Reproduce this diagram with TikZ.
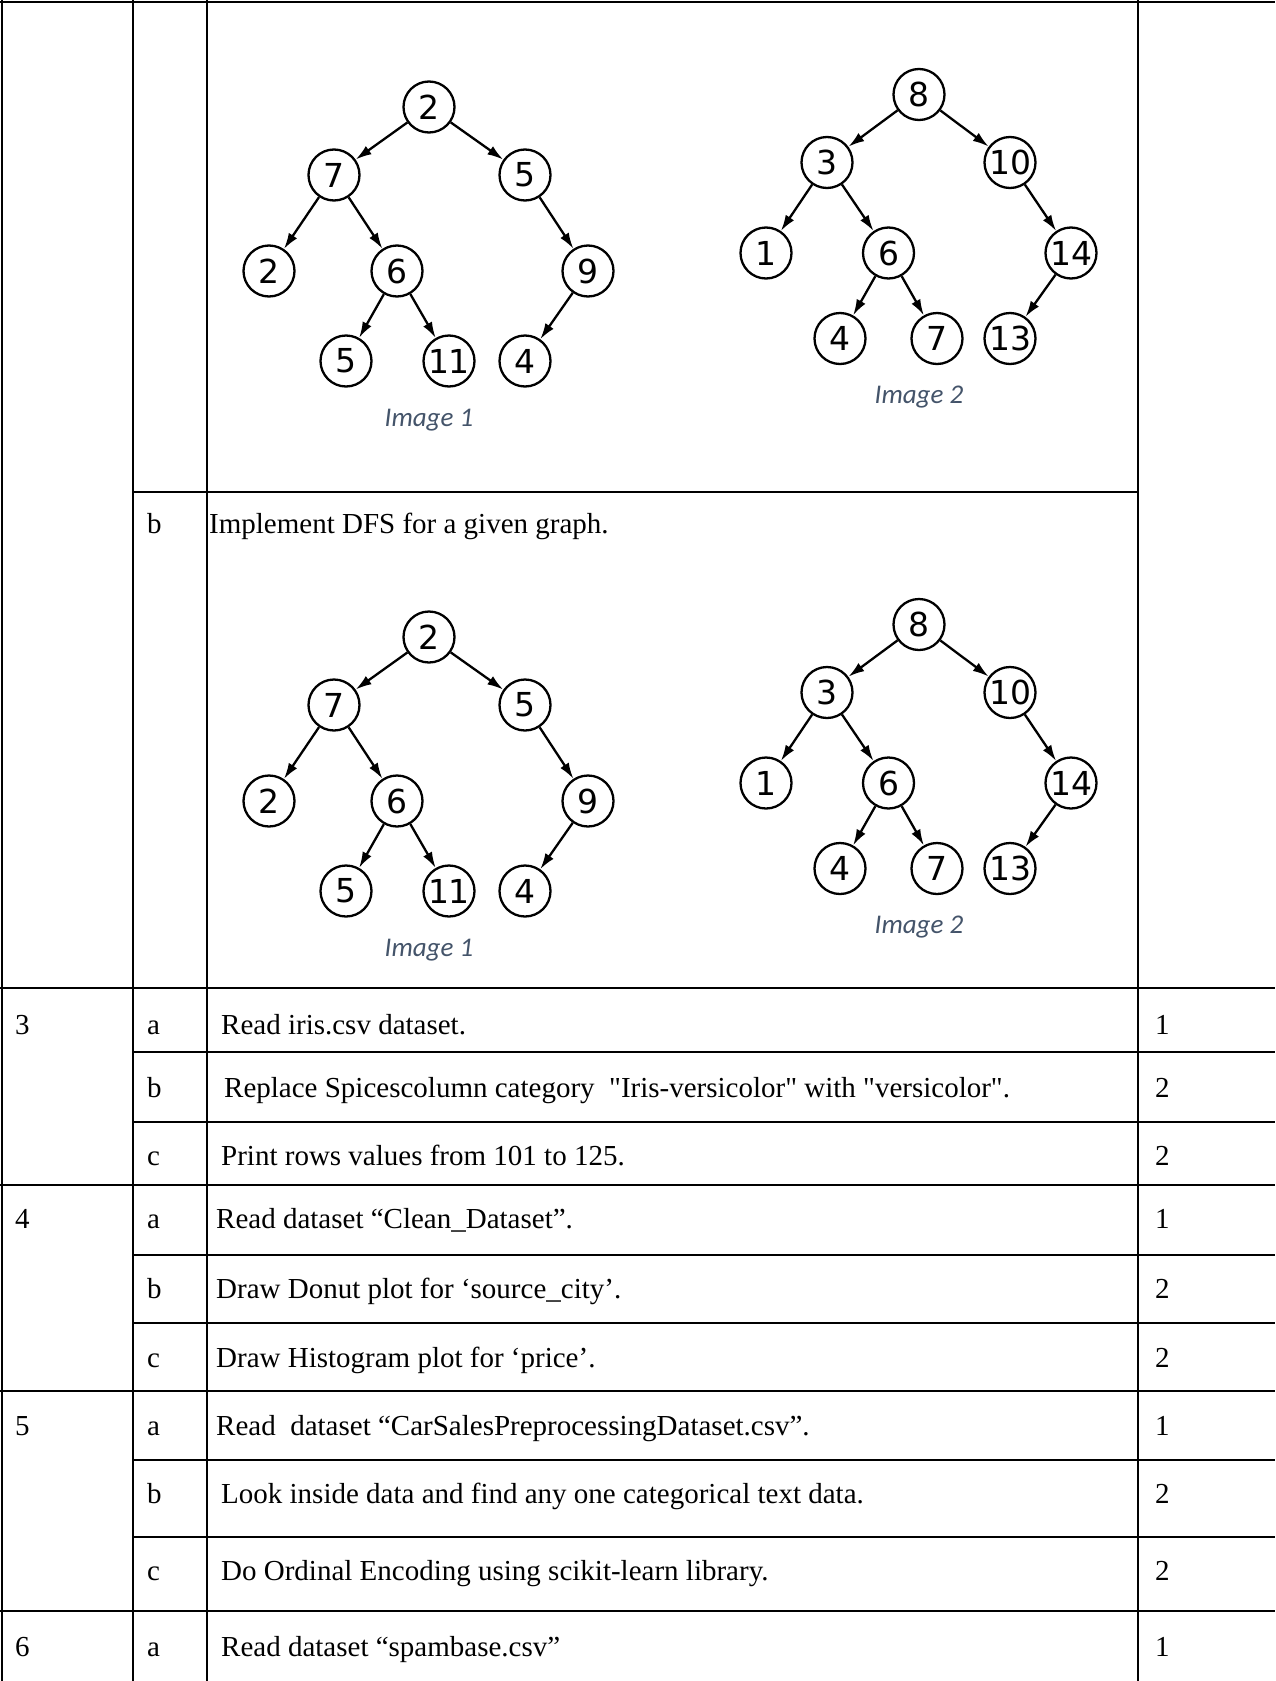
\documentclass[tikz,border=0pt]{standalone}
\usepackage{fontspec}
\setmainfont{Liberation Serif}[Ligatures=TeXOff]
\newfontfamily\treefont{DejaVu Sans}
\newfontfamily\capfont{Carlito}
\usetikzlibrary{arrows.meta}
\definecolor{capcol}{RGB}{68,84,106}
\tikzset{
  tnode/.style={circle, draw, line width=2.3pt, minimum size=51pt, inner sep=0pt, font=\treefont\fontsize{33}{33}\selectfont},
  tedge/.style={-{Latex[length=16pt,width=10pt]}, line width=2.3pt},
  capt/.style={inner sep=0pt, font=\capfont\itshape\fontsize{27}{27}\selectfont, text=capcol},
  tabrule/.style={line width=2.8pt},
  cell/.style={anchor=base west, inner sep=0pt, font=\fontsize{29}{34}\selectfont}
}
\newcommand\treeone[2]{%
  \begin{scope}[yshift=#2]
    \node[tnode] (#1r)  at (429,107) {2};
    \node[tnode] (#1a)  at (334,175) {7};
    \node[tnode] (#1b)  at (525,175) {5};
    \node[tnode] (#1c)  at (269,271) {2};
    \node[tnode] (#1d)  at (397,271) {6};
    \node[tnode] (#1e)  at (588,271) {9};
    \node[tnode] (#1f)  at (346,361) {5};
    \node[tnode] (#1g)  at (449,361) {11};
    \node[tnode] (#1h)  at (525,361) {4};
    \node[capt]  (#1cap) at (429,420) {Image 1};
    \draw[tedge] (#1r) -- (#1a);
    \draw[tedge] (#1r) -- (#1b);
    \draw[tedge] (#1a) -- (#1c);
    \draw[tedge] (#1a) -- (#1d);
    \draw[tedge] (#1b) -- (#1e);
    \draw[tedge] (#1d) -- (#1f);
    \draw[tedge] (#1d) -- (#1g);
    \draw[tedge] (#1e) -- (#1h);
  \end{scope}}
\newcommand\treetwo[2]{%
  \begin{scope}[yshift=#2]
    \node[tnode] (#1r)  at (919,94.5) {8};
    \node[tnode] (#1a)  at (827,162.5) {3};
    \node[tnode] (#1b)  at (1010,162.5) {10};
    \node[tnode] (#1c)  at (766,253) {1};
    \node[tnode] (#1d)  at (888.5,253) {6};
    \node[tnode] (#1e)  at (1071,253) {14};
    \node[tnode] (#1f)  at (840,338.5) {4};
    \node[tnode] (#1g)  at (937,338.5) {7};
    \node[tnode] (#1h)  at (1010,338.5) {13};
    \node[capt]  (#1cap) at (919,397) {Image 2};
    \draw[tedge] (#1r) -- (#1a);
    \draw[tedge] (#1r) -- (#1b);
    \draw[tedge] (#1a) -- (#1c);
    \draw[tedge] (#1a) -- (#1d);
    \draw[tedge] (#1b) -- (#1e);
    \draw[tedge] (#1d) -- (#1f);
    \draw[tedge] (#1d) -- (#1g);
    \draw[tedge] (#1e) -- (#1h);
  \end{scope}}
\begin{document}
\begin{tikzpicture}[x=1pt, y=-1pt]
  \useasboundingbox (0,0) rectangle (1275,1681);
  % table rules
  \draw[tabrule] (2,0) -- (2,1681);
  \draw[tabrule] (133,0) -- (133,1681);
  \draw[tabrule] (207,0) -- (207,1681);
  \draw[tabrule] (1138,0) -- (1138,1681);
  \draw[tabrule] (0,2) -- (1275,2);
  \draw[tabrule] (133,492) -- (1138,492);
  \draw[tabrule] (0,988) -- (1275,988);
  \draw[tabrule] (133,1052) -- (1275,1052);
  \draw[tabrule] (133,1122) -- (1275,1122);
  \draw[tabrule] (0,1185) -- (1275,1185);
  \draw[tabrule] (133,1255) -- (1275,1255);
  \draw[tabrule] (133,1323) -- (1275,1323);
  \draw[tabrule] (0,1391) -- (1275,1391);
  \draw[tabrule] (133,1460) -- (1275,1460);
  \draw[tabrule] (133,1537) -- (1275,1537);
  \draw[tabrule] (0,1611) -- (1275,1611);
  % trees
  \treeone{p}{0pt}
  \treetwo{q}{0pt}
  \treeone{s}{-530pt}
  \treetwo{t}{-530pt}
  % row 2b
  \node[cell] (l2b) at (147,533) {b};
  \node[cell] (t2b) at (209,533) {Implement DFS for a given graph.};
  % row 3
  \node[cell] (n3)  at (15,1034) {3};
  \node[cell] (l3a) at (147,1034) {a};
  \node[cell] (t3a) at (221,1034) {Read iris.csv dataset.};
  \node[cell] (m3a) at (1155,1034) {1};
  \node[cell] (l3b) at (147,1097) {b};
  \node[cell] (t3b) at (224,1097) {Replace Spicescolumn category~~"Iris-versicolor" with "versicolor".};
  \node[cell] (m3b) at (1155,1097) {2};
  \node[cell] (l3c) at (147,1165) {c};
  \node[cell] (t3c) at (221,1165) {Print rows values from 101 to 125.};
  \node[cell] (m3c) at (1155,1165) {2};
  % row 4
  \node[cell] (n4)  at (15,1228) {4};
  \node[cell] (l4a) at (147,1228) {a};
  \node[cell] (t4a) at (216,1228) {Read dataset “Clean\_Dataset”.};
  \node[cell] (m4a) at (1155,1228) {1};
  \node[cell] (l4b) at (147,1298) {b};
  \node[cell] (t4b) at (216,1298) {Draw Donut plot for ‘source\_city’.};
  \node[cell] (m4b) at (1155,1298) {2};
  \node[cell] (l4c) at (147,1367) {c};
  \node[cell] (t4c) at (216,1367) {Draw Histogram plot for ‘price’.};
  \node[cell] (m4c) at (1155,1367) {2};
  % row 5
  \node[cell] (n5)  at (15,1435) {5};
  \node[cell] (l5a) at (147,1435) {a};
  \node[cell] (t5a) at (216,1435) {Read~~dataset “CarSalesPreprocessingDataset.csv”.};
  \node[cell] (m5a) at (1155,1435) {1};
  \node[cell] (l5b) at (147,1503) {b};
  \node[cell] (t5b) at (221,1503) {Look inside data and find any one categorical text data.};
  \node[cell] (m5b) at (1155,1503) {2};
  \node[cell] (l5c) at (147,1580) {c};
  \node[cell] (t5c) at (221,1580) {Do Ordinal Encoding using scikit-learn library.};
  \node[cell] (m5c) at (1155,1580) {2};
  % row 6
  \node[cell] (n6)  at (15,1656) {6};
  \node[cell] (l6a) at (147,1656) {a};
  \node[cell] (t6a) at (221,1656) {Read dataset “spambase.csv”};
  \node[cell] (m6a) at (1155,1656) {1};
\end{tikzpicture}
\end{document}
